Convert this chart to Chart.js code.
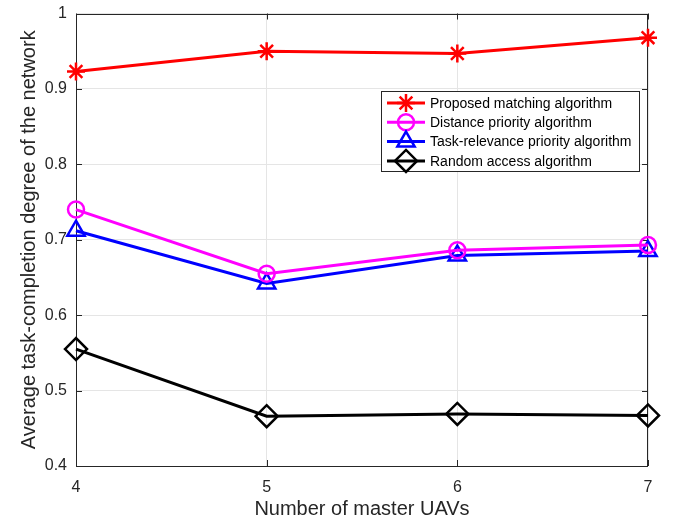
<!DOCTYPE html>
<html><head><meta charset="utf-8">
<script src="https://cdn.jsdelivr.net/npm/chart.js@4.4.0/dist/chart.umd.min.js"></script>
<style>html,body{margin:0;padding:0;background:#fff}#wrap{width:681px;height:521px}</style>
</head><body><div id="wrap"><canvas id="c" width="681" height="521"></canvas></div>
<script>
const masterUAVs = [4, 5, 6, 7];
const proposed = [0.923, 0.950, 0.947, 0.968];
const distancePriority = [0.740, 0.655, 0.686, 0.693];
const taskRelevance = [0.712, 0.642, 0.679, 0.685];
const randomAccess = [0.555, 0.466, 0.469, 0.467];
const yTicks = [0.4, 0.5, 0.6, 0.7, 0.8, 0.9, 1];
const seriesNames = ['Proposed matching algorithm','Distance priority algorithm','Task-relevance priority algorithm','Random access algorithm'];

const AX = '#262626';
const FONT = '"Liberation Sans", Arial, sans-serif';
function pts(arr){ return masterUAVs.map((x,i)=>({x:x,y:arr[i]})); }
const styles = [
  {color:'#ff0000', ps:'star', r:9},
  {color:'#ff00ff', ps:'circle', r:8},
  {color:'#0000ff', ps:'triangle', r:10},
  {color:'#000000', ps:'rectRot', r:11}
];
const dataArrs = [proposed, distancePriority, taskRelevance, randomAccess];
const datasets = dataArrs.map((a,i)=>({
  label: seriesNames[i], data: pts(a), borderColor: styles[i].color, backgroundColor:'rgba(0,0,0,0)',
  borderWidth: 3, pointStyle: styles[i].ps, pointRadius: styles[i].r, pointBorderWidth: 2.5,
  pointBorderColor: styles[i].color, pointBackgroundColor:'rgba(0,0,0,0)', pointHoverRadius: styles[i].r,
  clip: false
}));

const frame = {
  id:'frame',
  beforeDatasetsDraw(chart){
    const {ctx, chartArea:a, scales:{x,y}} = chart;
    ctx.save();
    ctx.strokeStyle = AX; ctx.lineWidth = 1;
    ctx.strokeRect(Math.round(a.left)+0.5, Math.round(a.top)+0.5, Math.round(a.right-a.left)-1, Math.round(a.bottom-a.top)-1);
    ctx.beginPath();
    masterUAVs.forEach(v=>{ const px=Math.round(x.getPixelForValue(v))+0.5;
      ctx.moveTo(px,a.bottom); ctx.lineTo(px,a.bottom-6);
      ctx.moveTo(px,a.top); ctx.lineTo(px,a.top+6); });
    yTicks.forEach(v=>{ const py=Math.round(y.getPixelForValue(v))+0.5;
      ctx.moveTo(a.left,py); ctx.lineTo(a.left+6,py);
      ctx.moveTo(a.right,py); ctx.lineTo(a.right-6,py); });
    ctx.stroke();
    ctx.restore();
  },
  afterDraw(chart){
    const ctx = chart.ctx;
    const bx=381, by=91, bw=258, bh=80;
    ctx.save();
    ctx.fillStyle='#fff'; ctx.fillRect(bx,by,bw,bh);
    ctx.strokeStyle=AX; ctx.lineWidth=1; ctx.strokeRect(bx+0.5,by+0.5,bw,bh);
    ctx.font = '14px '+FONT; ctx.textBaseline='middle';
    seriesNames.forEach((n,i)=>{
      const yy = by + 12 + i*19.3;
      ctx.strokeStyle=styles[i].color; ctx.lineWidth=3;
      ctx.beginPath(); ctx.moveTo(387,yy); ctx.lineTo(425,yy); ctx.stroke();
      ctx.lineWidth=2.5; ctx.fillStyle='rgba(0,0,0,0)';
      Chart.helpers.drawPoint(ctx,{pointStyle:styles[i].ps, radius:styles[i].r, borderWidth:2.5, rotation:0}, 406, yy);
      ctx.fillStyle='#000';
      ctx.fillText(n, 430, yy+1);
    });
    ctx.restore();
  }
};

new Chart(document.getElementById('c'), {
  type:'line',
  data:{datasets},
  options:{
    responsive:false, animation:false, devicePixelRatio:1,
    layout:{padding:{top:13,right:33,left:0,bottom:0}},
    plugins:{legend:{display:false}, tooltip:{enabled:false}},
    elements:{line:{tension:0}},
    scales:{
      x:{type:'linear', min:4, max:7,
        afterBuildTicks(s){ s.ticks = masterUAVs.map(v=>({value:v})); },
        afterFit(s){ s.height = 55; s.paddingLeft = 0; s.paddingRight = 0; },
        grid:{color:'#e5e5e5', drawTicks:false, lineWidth:1},
        border:{display:false},
        ticks:{color:AX, font:{family:FONT,size:16}, padding:12, maxRotation:0},
        title:{display:true, text:'Number of master UAVs', color:AX, font:{family:FONT,size:20}, padding:{top:0,bottom:0}}
      },
      y:{type:'linear', min:0.4, max:1,
        afterBuildTicks(s){ s.ticks = yTicks.map(v=>({value:v})); },
        afterFit(s){ s.width = 76; s.paddingTop = 0; s.paddingBottom = 0; },
        grid:{color:'#e5e5e5', drawTicks:false, lineWidth:1},
        border:{display:false},
        ticks:{color:AX, font:{family:FONT,size:16}, padding:9, callback:(v)=>String(Math.round(v*10)/10)},
        title:{display:true, text:'Average task-completion degree of the network', color:AX, font:{family:FONT,size:20}, padding:{top:17,bottom:0}}
      }
    }
  },
  plugins:[frame]
});
</script></body></html>
